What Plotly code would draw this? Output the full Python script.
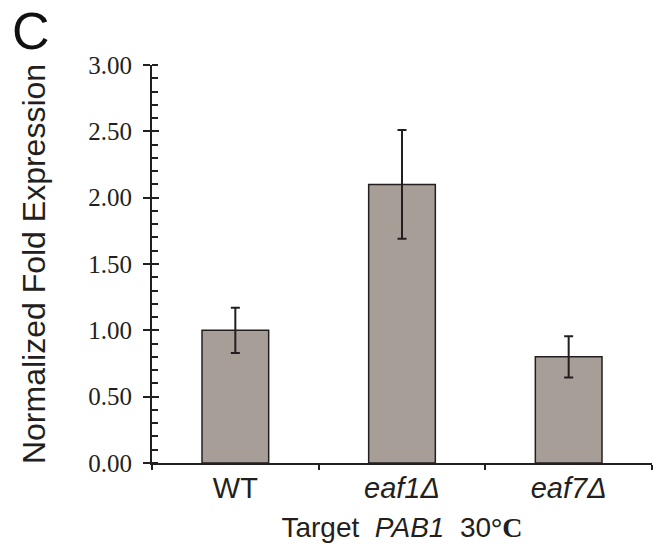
import plotly.graph_objects as go

categories = ["WT", "eaf1Δ", "eaf7Δ"]
tick_text = ["WT", "<i>eaf1Δ</i>", "<i>eaf7Δ</i>"]
values = [1.00, 2.10, 0.80]
errors = [0.17, 0.41, 0.155]
y_ticks = [0, 0.5, 1.0, 1.5, 2.0, 2.5, 3.0]
y_tick_labels = ["0.00", "0.50", "1.00", "1.50", "2.00", "2.50", "3.00"]

ink = "#231f20"
serif = "Liberation Serif"
sans = "Liberation Sans"

fig = go.Figure()
fig.add_trace(go.Bar(
    x=categories, y=values,
    marker=dict(color="#a89e98", line=dict(color=ink, width=1.5)),
    error_y=dict(type="data", array=errors, visible=True, color=ink, thickness=2, width=4.5),
    width=0.4,
    showlegend=False,
))
# invisible trace to activate the overlay axis that draws the inner half of the crossing major ticks
fig.add_trace(go.Scatter(x=categories, y=values, yaxis="y2", mode="markers",
                         marker=dict(opacity=0), showlegend=False, hoverinfo="skip"))

fig.update_layout(
    width=662, height=552,
    margin=dict(l=152, r=10, t=65, b=89),
    paper_bgcolor="white", plot_bgcolor="white",
    xaxis=dict(
        tickmode="array", tickvals=categories, ticktext=tick_text,
        tickson="boundaries", ticks="outside", ticklen=5, tickwidth=2, tickcolor=ink,
        showline=True, linecolor=ink, linewidth=2,
        tickfont=dict(family=sans, size=29, color=ink),
        ticklabelstandoff=-2,
        title=dict(text="Target  <i>PAB1</i>  30<span style='font-family:Liberation Serif'><b>°C</b></span>",
                   font=dict(family=sans, size=28, color=ink), standoff=15),
        showgrid=False, zeroline=False,
    ),
    yaxis=dict(
        range=[0, 3.0], tickmode="array", tickvals=y_ticks, ticktext=y_tick_labels,
        ticks="outside", ticklen=7, tickwidth=2, tickcolor=ink,
        minor=dict(dtick=0.1, ticks="inside", ticklen=6, tickwidth=2, tickcolor=ink, showgrid=False),
        showline=True, linecolor=ink, linewidth=2,
        tickfont=dict(family=serif, size=25, color=ink),
        ticklabelstandoff=6,
        title=dict(text="Normalized Fold Expression", font=dict(family=sans, size=32, color=ink), standoff=33),
        showgrid=False, zeroline=False,
    ),
    yaxis2=dict(
        overlaying="y", range=[0, 3.0], tickmode="array", tickvals=y_ticks,
        ticks="inside", ticklen=7, tickwidth=2, tickcolor=ink,
        showticklabels=False, showgrid=False, zeroline=False, showline=False, side="left",
    ),
    annotations=[dict(text="C", x=-0.285, y=1.163, xref="paper", yref="paper", xanchor="left", yanchor="top",
                      showarrow=False, font=dict(family=sans, size=52, color="#111"))],
)

fig.write_html("out.html")
